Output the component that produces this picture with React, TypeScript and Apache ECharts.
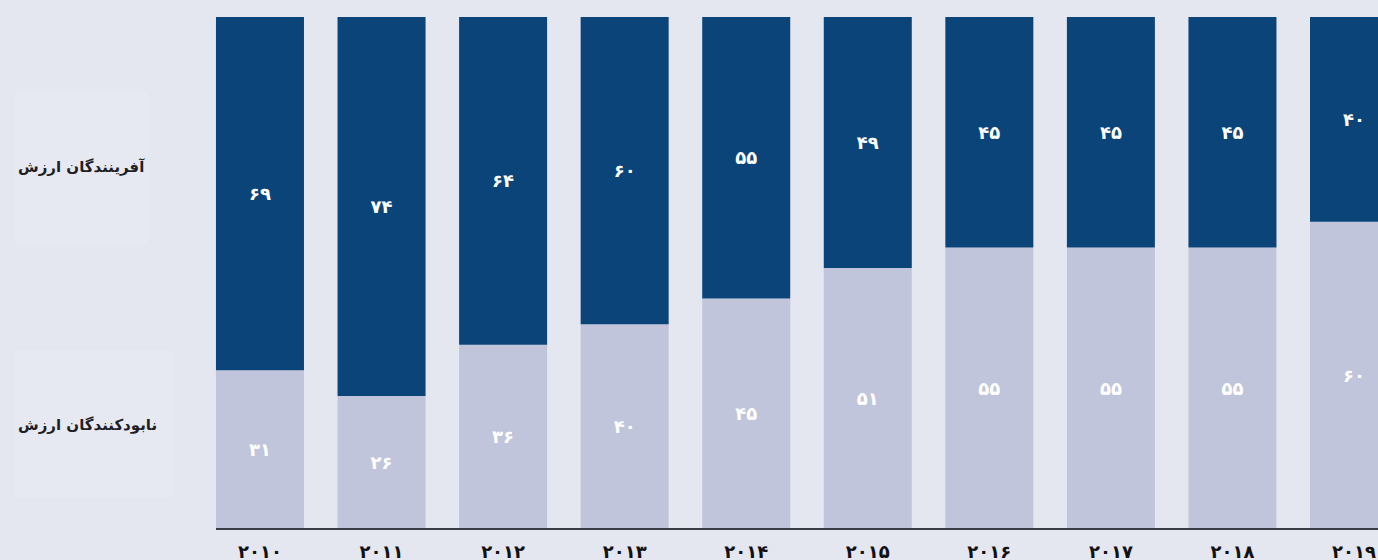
import React, { useEffect, useRef } from "react";
import * as echarts from "echarts";

// Years on the x axis
const years = ["2010", "2011", "2012", "2013", "2014", "2015", "2016", "2017", "2018", "2019"];
// Share of value creators (%)
const creators = [69, 74, 64, 60, 55, 49, 45, 45, 45, 40];
// Share of value destroyers (%)
const destroyers = [31, 26, 36, 40, 45, 51, 55, 55, 55, 60];

const creatorsName = "آفرینندگان ارزش";
const destroyersName = "نابودکنندگان ارزش";

const faDigits = "۰۱۲۳۴۵۶۷۸۹";
const toFa = (v: string | number) => String(v).replace(/[0-9]/g, (d) => faDigits[+d]);

const BG = "#e4e6f0";
const DARK = "#0a4479";
const LIGHT = "#c1c5dc";
const FONT = "'DejaVu Sans', sans-serif";

export default function App() {
  const ref = useRef<HTMLDivElement>(null);

  useEffect(() => {
    if (!ref.current) return;
    const chart = echarts.init(ref.current, null, { renderer: "svg" });
    const label = {
      show: true,
      position: "inside" as const,
      color: "#ffffff",
      fontWeight: "bold" as const,
      fontSize: 18,
      fontFamily: FONT,
      formatter: (p: any) => toFa(p.value),
    };
    chart.setOption({
      animation: false,
      backgroundColor: BG,
      grid: { left: 199.2, width: 1215.6, top: 17, height: 512 },
      xAxis: {
        type: "category",
        data: years,
        axisLine: { show: false },
        axisTick: { show: false },
        axisLabel: {
          margin: 13,
          color: "#111",
          fontWeight: "bold",
          fontSize: 18,
          fontFamily: FONT,
          formatter: (v: string) => toFa(v),
        },
      },
      yAxis: { type: "value", min: 0, max: 100, show: false },
      series: [
        {
          name: destroyersName,
          type: "bar",
          stack: "total",
          barWidth: 88,
          data: destroyers,
          itemStyle: { color: LIGHT },
          label,
        },
        {
          name: creatorsName,
          type: "bar",
          stack: "total",
          barWidth: 88,
          data: creators,
          itemStyle: { color: DARK },
          label,
        },
      ],
      graphic: [
        {
          type: "line",
          shape: { x1: 216, y1: 529, x2: 1416, y2: 529 },
          style: { stroke: "#3b3c47", lineWidth: 2 },
          z: 10,
        },
        {
          type: "rect",
          shape: { x: 15, y: 92, width: 133, height: 151 },
          style: { fill: "rgba(255,255,255,0.14)" },
        },
        {
          type: "rect",
          shape: { x: 15, y: 350, width: 157, height: 148 },
          style: { fill: "rgba(255,255,255,0.14)" },
        },
        {
          type: "text",
          x: 18,
          y: 167,
          style: {
            text: creatorsName,
            fill: "#1e1e24",
            font: `bold 15px ${FONT}`,
            textAlign: "left",
            textVerticalAlign: "middle",
          },
        },
        {
          type: "text",
          x: 18,
          y: 425,
          style: {
            text: destroyersName,
            fill: "#1e1e24",
            font: `bold 15px ${FONT}`,
            textAlign: "left",
            textVerticalAlign: "middle",
          },
        },
      ],
    });
    return () => chart.dispose();
  }, []);

  return (
    <div
      style={{
        position: "absolute",
        left: 0,
        top: 0,
        width: 1378,
        height: 560,
        overflow: "hidden",
        background: BG,
      }}
    >
      <div ref={ref} style={{ width: 1416, height: 560 }} />
    </div>
  );
}
